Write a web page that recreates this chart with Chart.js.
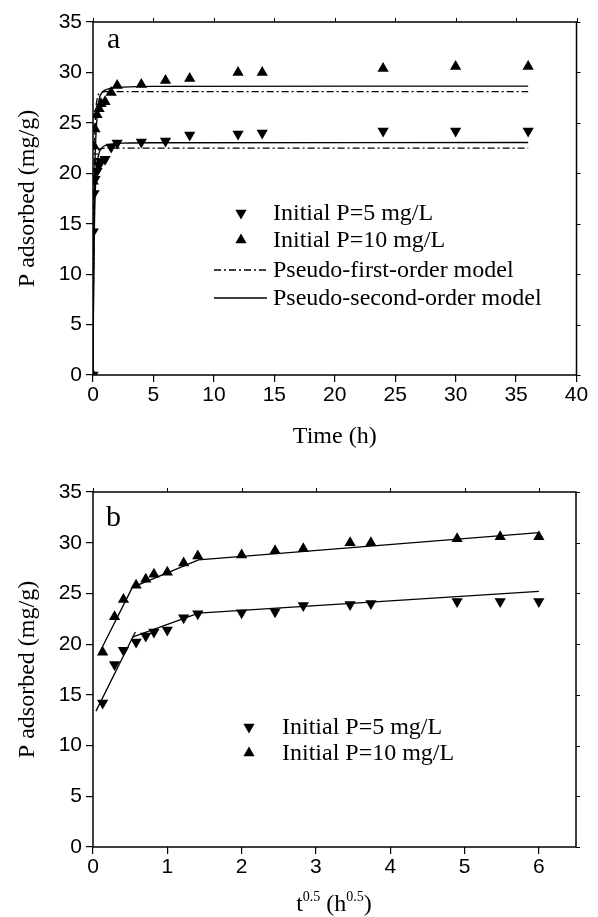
<!DOCTYPE html>
<html><head><meta charset="utf-8">
<script src="https://cdn.jsdelivr.net/npm/chart.js@4.4.0/dist/chart.umd.min.js"></script>
<style>
html,body{margin:0;padding:0;background:#fff;}
#wrap{position:relative;width:598px;height:917px;overflow:hidden;background:#fff;}
#c1{position:absolute;left:0;top:0;}
#c2{position:absolute;left:0;top:458px;}
</style></head><body>
<div id="wrap"><canvas id="c1" width="598" height="458"></canvas><canvas id="c2" width="598" height="459"></canvas></div>
<script>
// ---------- data ----------
const timeH   = [0, 0.0167, 0.083, 0.167, 0.333, 0.5, 0.667, 1, 1.5, 2, 4, 6, 8, 12, 14, 24, 30, 36];
const q5      = [0, 14.2, 18.0, 19.4, 20.2, 20.8, 21.2, 21.4, 22.6, 23.0, 23.1, 23.2, 23.8, 23.9, 24.0, 24.2, 24.2, 24.2];
const q10     = [0, 19.2, 22.7, 24.4, 25.8, 26.4, 26.9, 27.1, 28.0, 28.7, 28.8, 29.2, 29.4, 30.0, 30.0, 30.4, 30.6, 30.6];
// model curves (panel a)
const pfoT    = [0, 0.05, 0.1, 0.2, 0.35, 0.5, 0.75, 1, 2, 36];
const pfo5    = [0, 10.5, 16.5, 20.5, 22.0, 22.35, 22.45, 22.5, 22.5, 22.5];
const pfo10   = [0, 13.0, 20.5, 25.5, 27.4, 27.9, 28.05, 28.1, 28.1, 28.1];
const psoT    = [0, 0.05, 0.1, 0.2, 0.35, 0.5, 0.75, 1, 1.5, 2.5, 5, 36];
const pso5    = [0, 8.0, 13.5, 18.5, 21.0, 22.0, 22.55, 22.75, 22.9, 23.0, 23.03, 23.05];
const pso10   = [0, 10.0, 17.0, 22.5, 25.8, 27.3, 28.0, 28.25, 28.45, 28.55, 28.62, 28.65];
// panel b: square root of time for the measured points (t > 0)
const sqrtT   = [0.13, 0.29, 0.41, 0.58, 0.71, 0.82, 1.0, 1.22, 1.41, 2.0, 2.45, 2.83, 3.46, 3.74, 4.9, 5.48, 6.0];
// intraparticle diffusion fit segments (panel b)
const fit10X  = [0.09, 0.53, 1.42, 6.0];
const fit10Y  = [19.2, 25.6, 28.3, 31.0];
const fit5aX  = [0.04, 0.57];
const fit5aY  = [13.4, 21.2];
const fit5bX  = [0.53, 1.42, 6.0];
const fit5bY  = [20.7, 23.05, 25.2];
// axis ticks
const yTicks  = {min: 0, max: 35, step: 5};
const xTicksA = {min: 0, max: 40, step: 5};
const xTicksB = {min: 0, max: 6.5, step: 1};
const labels  = {s5: 'Initial P=5 mg/L', s10: 'Initial P=10 mg/L', pfo: 'Pseudo-first-order model', pso: 'Pseudo-second-order model'};

// ---------- helpers ----------
const SANS = '"Liberation Sans", Arial, sans-serif';
const SERIF = '"Liberation Serif", "Times New Roman", serif';
const pts = (xs, ys) => xs.map((x, i) => ({x: x, y: ys[i]}));
const DASHDOT = [7, 3, 2, 3];

function markerSet(label, xs, ys, down) {
  return {label, data: pts(xs, ys), showLine: false, pointStyle: 'triangle',
    rotation: down ? 180 : 0, pointRadius: 6.5, pointHoverRadius: 6.5,
    backgroundColor: '#000', borderColor: '#000', borderWidth: 0, order: 0};
}
function lineSet(label, xs, ys, dash, smooth) {
  return {label, data: pts(xs, ys), showLine: true, pointRadius: 0, borderColor: '#000',
    borderWidth: 1.3, borderDash: dash || [], fill: false, order: 1,
    cubicInterpolationMode: smooth ? 'monotone' : 'default', tension: 0};
}

const framePlugin = {
  id: 'frame',
  afterDatasetsDraw(chart) {
    const {ctx, chartArea: a, scales} = chart;
    ctx.save();
    ctx.strokeStyle = '#000';
    ctx.lineWidth = 1.5;
    ctx.strokeRect(a.left, a.top, a.right - a.left, a.bottom - a.top);
    ctx.lineWidth = 1;
    ctx.beginPath();
    scales.x.ticks.forEach(t => {
      const px = Math.round(scales.x.getPixelForValue(t.value)) + 0.5;
      ctx.moveTo(px, a.top); ctx.lineTo(px, a.top - 4);
    });
    scales.y.ticks.forEach(t => {
      const py = Math.round(scales.y.getPixelForValue(t.value)) + 0.5;
      ctx.moveTo(a.right, py); ctx.lineTo(a.right + 4, py);
    });
    ctx.stroke();
    ctx.restore();
  }
};

const textPlugin = {
  id: 'texts',
  afterDraw(chart, args, opts) {
    const ctx = chart.ctx;
    ctx.save();
    ctx.fillStyle = '#000';
    if (opts.panel) {
      ctx.font = '30px ' + SERIF;
      ctx.textBaseline = 'alphabetic';
      ctx.textAlign = 'left';
      ctx.fillText(opts.panel.text, opts.panel.x, opts.panel.y);
    }
    if (opts.legend) {
      const L = opts.legend;
      ctx.font = '24px ' + SERIF;
      ctx.textBaseline = 'middle';
      ctx.textAlign = 'left';
      L.rows.forEach(r => {
        const ds = chart.data.datasets[r.ds];
        if (r.kind === 'marker') {
          ctx.save();
          ctx.translate(L.mx, r.y);
          const s = 6.5;
          ctx.beginPath();
          if (ds.rotation === 180) {
            ctx.moveTo(-s * 0.866, -s * 0.5); ctx.lineTo(s * 0.866, -s * 0.5); ctx.lineTo(0, s);
          } else {
            ctx.moveTo(-s * 0.866, s * 0.5); ctx.lineTo(s * 0.866, s * 0.5); ctx.lineTo(0, -s);
          }
          ctx.closePath();
          ctx.fill();
          ctx.restore();
        } else {
          ctx.save();
          ctx.strokeStyle = '#000';
          ctx.lineWidth = 1.3;
          ctx.setLineDash(ds.borderDash || []);
          ctx.beginPath();
          ctx.moveTo(L.lx0, r.y); ctx.lineTo(L.lx1, r.y);
          ctx.stroke();
          ctx.restore();
        }
        ctx.fillText(ds.label, L.tx, r.y + 1);
      });
    }
    if (opts.xTitleSup) {
      const T = opts.xTitleSup;
      const big = '24px ' + SERIF, small = '14px ' + SERIF;
      const parts = [['t', big, 0], ['0.5', small, -10], [' (h', big, 0], ['0.5', small, -10], [')', big, 0]];
      let w = 0;
      parts.forEach(p => { ctx.font = p[1]; w += ctx.measureText(p[0]).width; });
      let x = T.cx - w / 2;
      ctx.textAlign = 'left';
      ctx.textBaseline = 'alphabetic';
      parts.forEach(p => { ctx.font = p[1]; ctx.fillText(p[0], x, T.y + p[2]); x += ctx.measureText(p[0]).width; });
    }
    ctx.restore();
  }
};

function tickList(tk) {
  const out = [];
  for (let i = 0; tk.min + i * tk.step <= tk.max + 1e-9; i++) out.push({value: tk.min + i * tk.step});
  return out;
}
function yScale(titlePad) {
  return {
    type: 'linear', min: yTicks.min, max: yTicks.max,
    ticks: {stepSize: yTicks.step, color: '#000', font: {family: SANS, size: 21}, padding: 4},
    grid: {display: true, drawOnChartArea: false, drawTicks: true, tickLength: 7, color: '#000', lineWidth: 1.2},
    border: {display: false},
    title: {display: true, text: 'P adsorbed (mg/g)', color: '#000', font: {family: SERIF, size: 24}, padding: {top: titlePad, bottom: 0}},
    afterBuildTicks(s) { s.ticks = tickList(yTicks); },
    afterFit(s) { s.width = 93; }
  };
}
function xScale(tk, h, title, titlePadBottom) {
  return {
    type: 'linear', min: tk.min, max: tk.max,
    ticks: {stepSize: tk.step, color: '#000', font: {family: SANS, size: 21}, padding: 1, maxRotation: 0},
    grid: {display: true, drawOnChartArea: false, drawTicks: true, tickLength: 7, color: '#000', lineWidth: 1.2},
    border: {display: false},
    title: title ? {display: true, text: title, color: '#000', font: {family: SERIF, size: 24}, padding: {top: 0, bottom: titlePadBottom}} : {display: false},
    afterBuildTicks(s) { s.ticks = tickList(tk); },
    afterFit(s) { s.height = h; }
  };
}

Chart.defaults.animation = false;

// ---------- panel a ----------
new Chart(document.getElementById('c1'), {
  type: 'scatter',
  data: {datasets: [
    markerSet(labels.s5, timeH, q5, true),
    markerSet(labels.s10, timeH, q10, false),
    lineSet(labels.pfo, pfoT, pfo5, DASHDOT, true),
    lineSet(labels.pfo, pfoT, pfo10, DASHDOT, true),
    lineSet(labels.pso, psoT, pso5, null, true),
    lineSet(labels.pso, psoT, pso10, null, true)
  ]},
  options: {
    responsive: false, devicePixelRatio: 1,
    layout: {padding: {left: 0, right: 21.5, top: 22, bottom: 0}},
    plugins: {legend: {display: false}, tooltip: {enabled: false},
      texts: {panel: {text: 'a', x: 107, y: 48},
        legend: {mx: 241, lx0: 214, lx1: 267, tx: 273, rows: [
          {ds: 0, kind: 'marker', y: 213}, {ds: 1, kind: 'marker', y: 240},
          {ds: 2, kind: 'line', y: 270}, {ds: 4, kind: 'line', y: 298}]}}},
    scales: {x: xScale(xTicksA, 83, 'Time (h)', 7), y: yScale(13.5)}
  },
  plugins: [framePlugin, textPlugin]
});

// ---------- panel b ----------
new Chart(document.getElementById('c2'), {
  type: 'scatter',
  data: {datasets: [
    markerSet(labels.s5, sqrtT, q5.slice(1), true),
    markerSet(labels.s10, sqrtT, q10.slice(1), false),
    lineSet('fit 10', fit10X, fit10Y, null, false),
    lineSet('fit 5a', fit5aX, fit5aY, null, false),
    lineSet('fit 5b', fit5bX, fit5bY, null, false)
  ]},
  options: {
    responsive: false, devicePixelRatio: 1,
    layout: {padding: {left: 0, right: 22, top: 34, bottom: 0}},
    plugins: {legend: {display: false}, tooltip: {enabled: false},
      texts: {panel: {text: 'b', x: 106, y: 68},
        legend: {mx: 249, tx: 282, rows: [
          {ds: 0, kind: 'marker', y: 269}, {ds: 1, kind: 'marker', y: 295}]},
        xTitleSup: {cx: 334, y: 453}}},
    scales: {x: xScale(xTicksB, 70, null, 0), y: yScale(13.5)}
  },
  plugins: [framePlugin, textPlugin]
});
</script>
</body></html>
